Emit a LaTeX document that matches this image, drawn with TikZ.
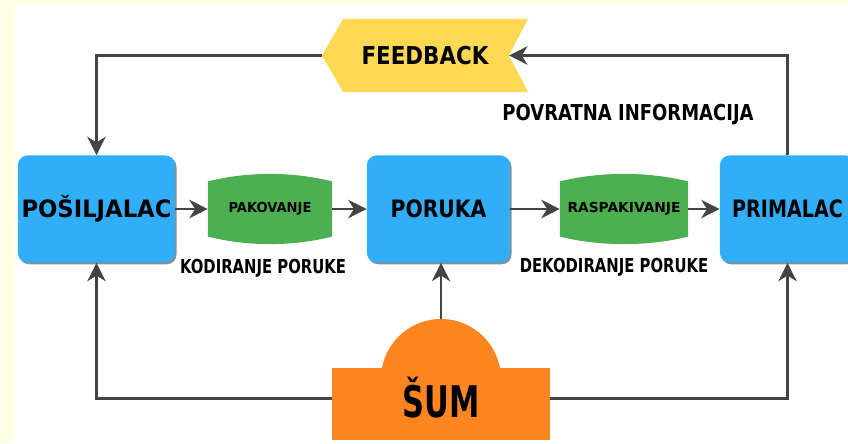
\documentclass[tikz,border=0pt]{standalone}
\usepackage{fontspec}
\setmainfont{DejaVu Sans}
\usetikzlibrary{arrows.meta,shadows}

\definecolor{cream}{RGB}{255,255,230}
\definecolor{boxblue}{RGB}{48,174,248}
\definecolor{padgreen}{RGB}{76,175,80}
\definecolor{fbyellow}{RGB}{253,216,83}
\definecolor{noiseorange}{RGB}{255,133,33}
\definecolor{linegray}{RGB}{68,68,68}

\newcommand{\sqz}[2]{\scalebox{#1}[1]{#2}}

\begin{document}
\begin{tikzpicture}[x=0.025cm,y=-0.025cm,
    party/.style={rectangle,rounded corners=7pt,fill=boxblue,inner sep=0pt,
        minimum height=2.68cm,
        drop shadow={shadow xshift=1pt,shadow yshift=-1.2pt,fill=black!45,opacity=1},
        font=\bfseries\fontsize{17}{17}\selectfont},
    codec/.style={rectangle,inner sep=0pt,minimum height=1.88cm,
        font=\bfseries\fontsize{9.8}{10}\selectfont,
        path picture={\fill[padgreen]
            ([yshift=-0.25cm]path picture bounding box.north west)
            .. controls ([xshift=1cm]path picture bounding box.north west)
            and ([xshift=-1cm]path picture bounding box.north east)
            .. ([yshift=-0.25cm]path picture bounding box.north east)
            -- ([yshift=0.25cm]path picture bounding box.south east)
            .. controls ([xshift=-1cm]path picture bounding box.south east)
            and ([xshift=1cm]path picture bounding box.south west)
            .. ([yshift=0.25cm]path picture bounding box.south west) -- cycle;}},
    caption/.style={inner sep=0pt,font=\bfseries\fontsize{13.7}{14}\selectfont},
    arr/.style={draw=linegray,line width=2pt,
        -{Stealth[length=13pt,width=13pt,inset=4pt]}}]

    \useasboundingbox (0,0) rectangle (848,443);
    \fill[cream] (0,0) rectangle (848,443);
    \fill[white] (14,5) rectangle (848,443);

    % senders, message, receiver
    \node[party,minimum width=3.93cm] (posiljalac) at (96.5,209) {\sqz{0.95}{POŠILJALAC}};
    \node[party,minimum width=3.58cm] (poruka)     at (438.5,209) {\sqz{0.85}{PORUKA}};
    \node[party,minimum width=3.38cm] (primalac)   at (787.5,209) {\sqz{0.8}{PRIMALAC}};

    % encoding / decoding
    \node[codec,minimum width=3.1cm] (pakovanje)    at (270,209) {\sqz{0.95}{PAKOVANJE}};
    \node[codec,minimum width=3.2cm] (raspakivanje) at (624,209) {RASPAKIVANJE};

    \node[caption] (kodiranje)   at (263,268) {\sqz{0.77}{KODIRANJE PORUKE}};
    \node[caption] (dekodiranje) at (614,267) {\sqz{0.77}{DEKODIRANJE PORUKE}};

    % feedback
    \node[rectangle,inner sep=0pt,minimum width=5.15cm,minimum height=1.83cm,
        font=\bfseries\fontsize{17.5}{18}\selectfont,
        path picture={\fill[fbyellow] (path picture bounding box.west)
            -- ([xshift=0.53cm]path picture bounding box.north west)
            -- (path picture bounding box.north east)
            -- ([xshift=-0.48cm]path picture bounding box.east)
            -- (path picture bounding box.south east)
            -- ([xshift=0.53cm]path picture bounding box.south west) -- cycle;}]
        (feedback) at (425,55.5) {\sqz{0.87}{FEEDBACK}};
    \node[inner sep=0pt,font=\bfseries\fontsize{15.6}{16}\selectfont]
        (povratna) at (628,115) {\sqz{0.82}{POVRATNA INFORMACIJA}};

    % noise
    \node[circle,fill=noiseorange,inner sep=0pt,minimum size=3cm] (dome) at (441,379) {};
    \node[rectangle,fill=noiseorange,inner sep=0pt,minimum width=5.45cm,minimum height=1.8cm,
        font=\bfseries\fontsize{31}{31}\selectfont] (sum) at (441,404) {\raisebox{10pt}{\sqz{0.7}{ŠUM}}};

    \draw[arr] (posiljalac) -- (pakovanje);
    \draw[arr] (pakovanje) -- (poruka);
    \draw[arr] (poruka) -- (raspakivanje);
    \draw[arr] (raspakivanje) -- (primalac);

    \draw[arr] (primalac.north) |- ([xshift=-0.48cm]feedback.east);
    \draw[arr] (feedback.west) -| (posiljalac.north);

    \draw[arr] (dome.north) -- (dome.north |- poruka.south);
    \draw[arr] ([yshift=4pt]sum.west) -| (posiljalac.south);
    \draw[arr] ([yshift=4pt]sum.east) -| (primalac.south);
\end{tikzpicture}
\end{document}
